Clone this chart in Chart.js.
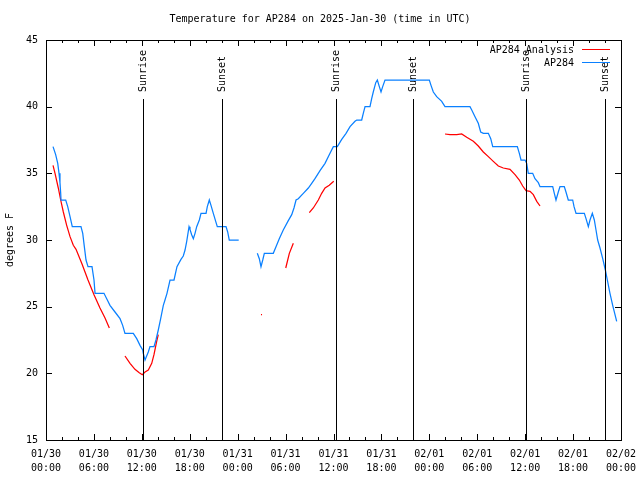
<!DOCTYPE html>
<html>
<head>
<meta charset="utf-8">
<script src="https://cdn.jsdelivr.net/npm/chart.js@4.4.1/dist/chart.umd.min.js"></script>
<style>
  html, body { margin: 0; padding: 0; background: #fff; }
  canvas { display: block; }
</style>
</head>
<body>
<canvas id="tempChart" width="640" height="480"></canvas>
<script>
// hours since 01/30 00:00 UTC
const obsHours = [
    0.88, 1.21, 1.47, 1.63, 1.75, 1.84, 1.88, 2.47, 2.72, 3.01, 3.29, 4.38, 4.60, 4.80, 5.01, 5.26, 5.76, 6.01, 6.14, 7.26,
    7.68, 8.01, 8.64, 9.27, 9.60, 9.89, 10.93, 11.36, 11.77, 12.11, 12.18, 12.40, 12.81, 13.02, 13.52, 13.77, 14.06, 14.36, 14.69, 14.90,
    15.15, 15.53, 16.03, 16.40, 16.90, 17.19, 17.41, 17.62, 17.91, 18.03, 18.24, 18.45, 18.66, 18.87, 19.20, 19.41, 20.04, 20.20, 20.45, 20.66,
    20.95, 21.25, 21.45, 22.54, 22.75, 22.95, 24.13,
    25.30,
    26.46, 26.71, 26.92, 27.14, 27.34, 28.46, 28.80, 29.21, 29.71, 30.34, 30.77, 31.05, 31.31, 31.59, 32.22, 32.85, 33.27, 33.68, 34.31, 34.94,
    35.47, 35.98, 36.48, 37.03, 37.57, 38.07, 38.69, 38.91, 39.53, 39.73, 39.95, 40.57, 40.78, 40.98, 41.29, 41.49, 41.74, 41.95, 42.16, 42.45,
    48.00, 48.21, 48.50, 48.92, 49.55, 49.96, 53.09, 53.31, 53.72, 54.13, 54.43, 54.76, 55.39, 55.69, 55.94, 59.02, 59.27, 59.48, 59.98, 60.19,
    60.39, 60.94, 61.23, 61.65, 61.86, 63.45, 63.65, 63.86, 64.15, 64.36, 64.90, 65.11, 65.40, 65.95, 66.12, 66.37, 67.41, 67.62, 67.91, 68.12,
    68.41, 68.66, 68.87, 69.08, 69.37, 69.71, 70.04, 70.29, 70.62, 70.96, 71.21, 71.46
];
const obsTemps = [
    37.0, 36.4, 35.75, 35.0, 34.3, 33.5, 33.0, 33.0, 32.5, 31.75, 31.0, 31.0, 30.5, 29.5, 28.5, 28.0, 28.0, 27.0, 26.0, 26.0,
    25.5, 25.1, 24.6, 24.1, 23.6, 23.0, 23.0, 22.6, 22.1, 21.75, 21.5, 21.0, 21.6, 22.0, 22.0, 22.5, 23.25, 24.1, 25.1, 25.5,
    26.0, 27.0, 27.0, 28.0, 28.55, 28.8, 29.25, 29.9, 31.0, 30.8, 30.4, 30.1, 30.5, 31.0, 31.5, 32.0, 32.0, 32.5, 33.0, 32.6,
    32.0, 31.4, 31.0, 31.0, 30.6, 30.0, 30.0,
    null,
    29.0, 28.6, 28.0, 28.5, 29.0, 29.0, 29.5, 30.1, 30.75, 31.45, 31.9, 32.4, 33.0, 33.1, 33.5, 33.9, 34.25, 34.6, 35.2, 35.75,
    36.4, 37.0, 37.0, 37.55, 38.0, 38.5, 38.9, 39.0, 39.0, 39.5, 40.0, 40.0, 40.6, 41.1, 41.8, 42.0, 41.5, 41.1, 41.5, 42.0,
    42.0, 41.6, 41.1, 40.75, 40.4, 40.0, 40.0, 39.75, 39.25, 38.75, 38.1, 38.0, 38.0, 37.6, 37.0, 37.0, 36.5, 36.0, 36.0, 35.75,
    35.0, 35.0, 34.6, 34.3, 34.0, 34.0, 33.5, 33.0, 33.6, 34.0, 34.0, 33.6, 33.0, 33.0, 32.5, 32.0, 32.0, 31.6, 31.0, 31.5,
    32.0, 31.5, 30.75, 30.0, 29.4, 28.6, 27.75, 27.0, 26.0, 25.1, 24.5, 23.9
];

const anaHours = [
    0.88, 1.13, 1.54, 1.84, 2.17, 2.59, 3.01, 3.42, 3.76, 4.51, 5.26, 6.01, 6.76, 7.39, 7.93,
    8.90,
    9.89, 10.52, 11.14, 11.68, 12.06, 12.40, 12.81, 13.24, 13.52, 13.86, 14.06,
    20.00,
    26.92, 27.05,
    28.50,
    30.02, 30.47, 30.97,
    32.00,
    32.97, 33.47, 34.10, 34.52, 34.94, 35.47, 36.03,
    45.00,
    49.96, 50.59, 51.43, 52.05, 52.68, 53.51, 54.13, 54.76, 55.39, 56.01, 56.64, 57.26, 58.10, 58.73, 59.27, 59.69, 60.11, 60.61,
    61.02, 61.45, 61.86
];
const anaTemps = [
    35.6, 35.0, 33.9, 33.0, 32.1, 31.1, 30.25, 29.6, 29.3, 28.2, 27.0, 25.9, 24.9, 24.15, 23.4,
    null,
    21.3, 20.75, 20.3, 20.05, 19.9, 20.1, 20.25, 20.75, 21.4, 22.4, 22.9,
    null,
    24.4, 24.4,
    null,
    27.9, 29.0, 29.75,
    null,
    32.05, 32.4, 33.0, 33.5, 33.9, 34.1, 34.4,
    null,
    37.95, 37.9, 37.9, 37.95, 37.7, 37.4, 37.05, 36.6, 36.25, 35.9, 35.55, 35.4, 35.3, 34.9, 34.5, 34.05, 33.7, 33.65,
    33.4, 32.9, 32.55
];

const sunHours = [12.18, 22.08, 36.28, 46.0, 60.15, 70.04];
const sunLabels = ['Sunrise', 'Sunset', 'Sunrise', 'Sunset', 'Sunrise', 'Sunset'];

const xTickDates = ['01/30', '01/30', '01/30', '01/30', '01/31', '01/31', '01/31', '01/31', '02/01', '02/01', '02/01', '02/01', '02/02'];
const xTickTimes = ['00:00', '06:00', '12:00', '18:00', '00:00', '06:00', '12:00', '18:00', '00:00', '06:00', '12:00', '18:00', '00:00'];

const FONT = 'DejaVu Sans Mono';
const RED = '#ff0000';
const BLUE = '#0a80ff';

Chart.defaults.font.family = FONT;
Chart.defaults.font.size = 10;
Chart.defaults.color = '#000';

const toPoints = (xs, ys) => xs.map((x, i) => ({ x: x, y: ys[i] }));

// gnuplot look: box border, inward ticks, title, legend, sunrise/sunset markers
const gnuplotDecor = {
    id: 'gnuplotDecor',
    afterDraw(chart) {
        const ctx = chart.ctx;
        const a = chart.chartArea;
        const xs = chart.scales.x;
        const ys = chart.scales.y;
        ctx.save();
        ctx.strokeStyle = '#000';
        ctx.fillStyle = '#000';
        ctx.lineWidth = 1;

        //..sun lines + labels
        ctx.font = '10px ' + FONT;
        sunHours.forEach((h, i) => {
            const px = Math.round(xs.getPixelForValue(h)) + 0.5;
            ctx.beginPath();
            ctx.moveTo(px, a.top + 59);
            ctx.lineTo(px, a.bottom);
            ctx.stroke();
            ctx.save();
            ctx.translate(px, a.top + 52);
            ctx.rotate(-Math.PI / 2);
            ctx.textAlign = 'left';
            ctx.textBaseline = 'middle';
            ctx.fillText(sunLabels[i], 0, 0);
            ctx.restore();
        });

        //..border
        ctx.strokeRect(a.left + 0.5, a.top + 0.5, a.right - a.left, a.bottom - a.top);

        //..y ticks both sides
        ctx.beginPath();
        for (let v = ys.min; v <= ys.max; v += 5) {
            const py = Math.round(ys.getPixelForValue(v)) + 0.5;
            ctx.moveTo(a.left, py); ctx.lineTo(a.left + 6, py);
            ctx.moveTo(a.right, py); ctx.lineTo(a.right - 6, py);
        }
        //..x ticks top and bottom, minor every 2h
        for (let h = xs.min; h <= xs.max; h += 2) {
            const px = Math.round(xs.getPixelForValue(h)) + 0.5;
            const len = h % 6 === 0 ? 6 : 3;
            ctx.moveTo(px, a.bottom); ctx.lineTo(px, a.bottom - len);
            ctx.moveTo(px, a.top); ctx.lineTo(px, a.top + len);
        }
        ctx.stroke();

        //..title
        ctx.textAlign = 'center';
        ctx.textBaseline = 'middle';
        ctx.fillText('Temperature for AP284 on 2025-Jan-30 (time in UTC)', 320, 19);

        //..y axis label
        ctx.save();
        ctx.translate(10, 240);
        ctx.rotate(-Math.PI / 2);
        ctx.fillText('degrees F', 0, 0);
        ctx.restore();

        //..legend
        ctx.textAlign = 'right';
        ctx.fillText('AP284 Analysis', 574, 50);
        ctx.fillText('AP284', 574, 63);
        ctx.strokeStyle = RED;
        ctx.beginPath(); ctx.moveTo(582, 49.5); ctx.lineTo(610, 49.5); ctx.stroke();
        ctx.strokeStyle = BLUE;
        ctx.beginPath(); ctx.moveTo(582, 62.5); ctx.lineTo(610, 62.5); ctx.stroke();

        ctx.restore();
    }
};

new Chart(document.getElementById('tempChart'), {
    type: 'line',
    data: {
        datasets: [
            {
                label: 'AP284 Analysis',
                data: toPoints(anaHours, anaTemps),
                borderColor: RED,
                borderWidth: 1.25,
                pointRadius: 0,
                tension: 0,
                spanGaps: false,
                order: 1
            },
            {
                label: 'AP284',
                data: toPoints(obsHours, obsTemps),
                borderColor: BLUE,
                borderWidth: 1.25,
                pointRadius: 0,
                tension: 0,
                spanGaps: false,
                order: 0
            }
        ]
    },
    options: {
        responsive: false,
        animation: false,
        devicePixelRatio: 1,
        layout: { padding: { top: 40, right: 19, bottom: 0, left: 0 } },
        plugins: {
            legend: { display: false },
            title: { display: false },
            tooltip: { enabled: false }
        },
        scales: {
            x: {
                type: 'linear',
                min: 0,
                max: 72,
                grid: { display: false, drawTicks: false },
                border: { display: false },
                ticks: {
                    stepSize: 6,
                    maxRotation: 0,
                    autoSkip: false,
                    padding: 7,
                    font: { size: 10, lineHeight: 1.4 },
                    callback: v => [xTickDates[v / 6], xTickTimes[v / 6]]
                },
                afterFit: s => {
                    s.height = 40;
                    s.paddingLeft = 0;
                    s.paddingRight = 0;
                }
            },
            y: {
                min: 15,
                max: 45,
                grid: { display: false, drawTicks: false },
                border: { display: false },
                ticks: { stepSize: 5, padding: 8, font: { size: 10 } },
                afterFit: s => {
                    s.width = 46;
                    s.paddingTop = 0;
                    s.paddingBottom = 0;
                }
            }
        }
    },
    plugins: [gnuplotDecor]
});
</script>
</body>
</html>
